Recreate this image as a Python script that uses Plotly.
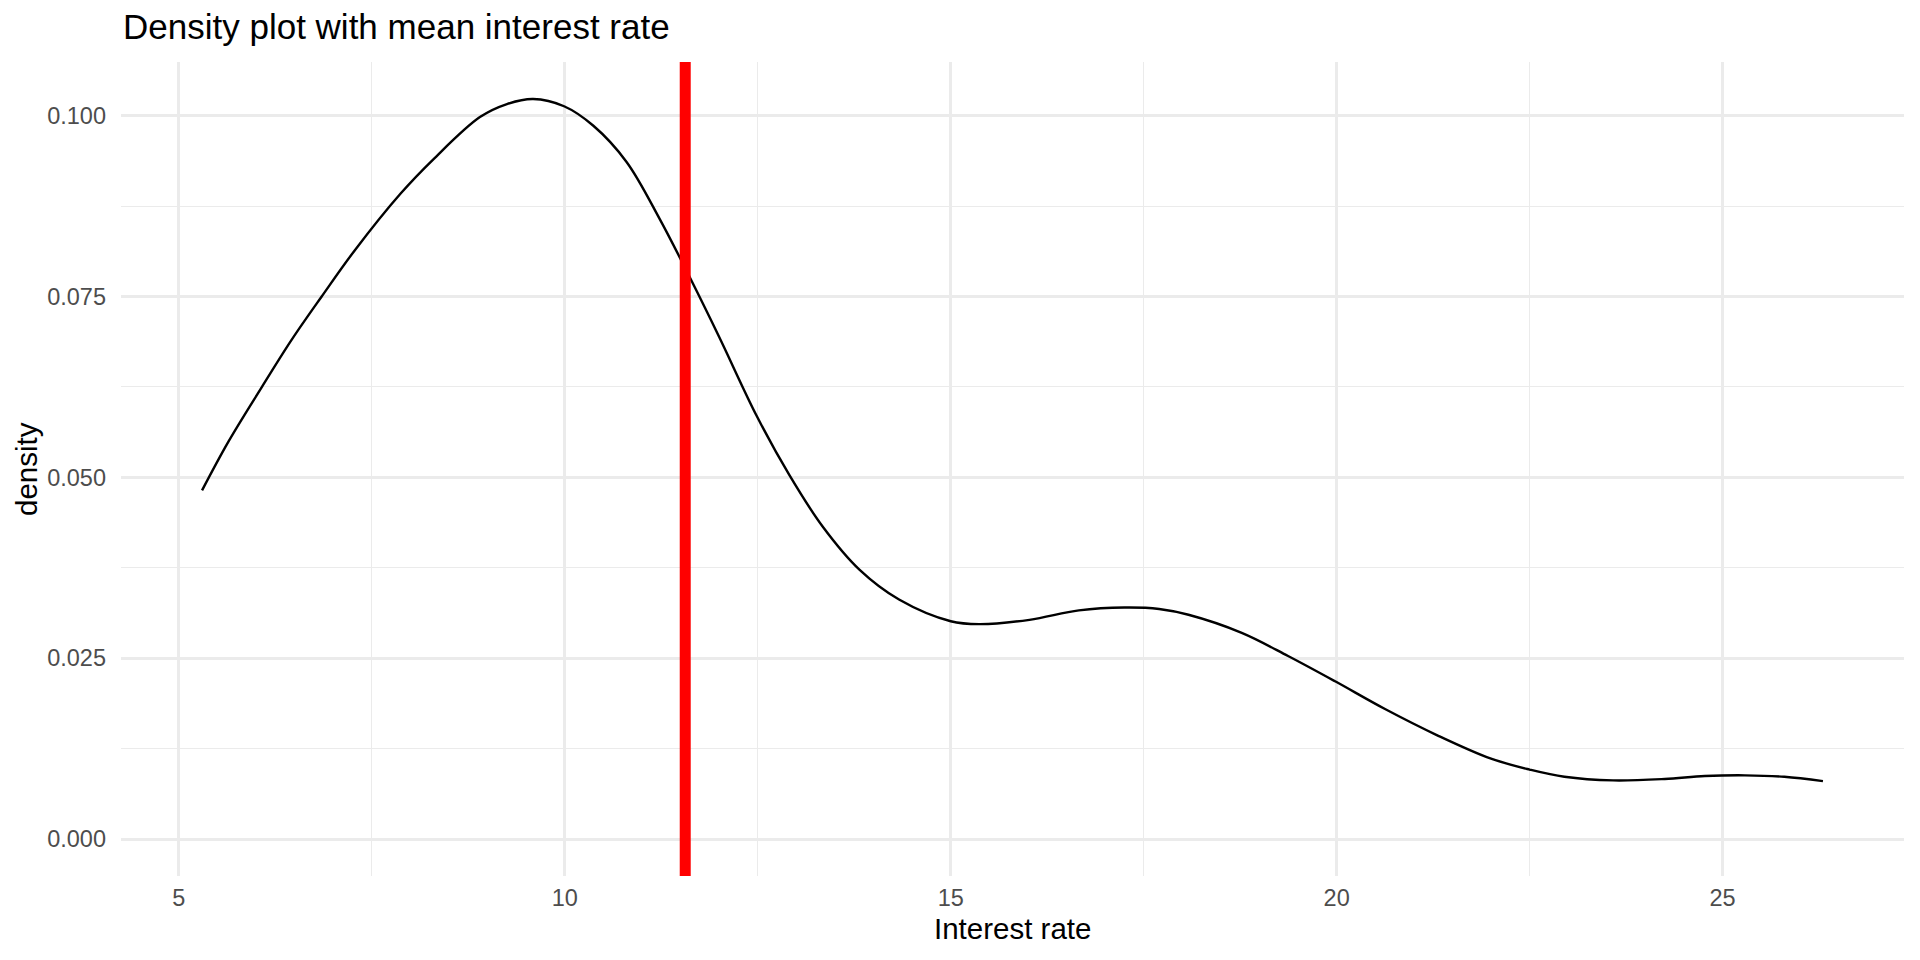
import plotly.graph_objects as go

# ---- data ----
interest_rate = [5.30, 5.64, 6.07, 6.46, 6.85, 7.28, 7.87, 8.30, 8.90,
                 9.25, 9.59, 9.99, 10.37, 10.80, 11.23, 11.64, 12.00, 12.49,
                 12.91, 13.34, 13.82, 14.33, 15.00, 15.37, 16.02, 16.66, 17.25, 17.70,
                 18.08, 18.77, 19.37, 19.98, 20.62, 21.31, 22.00, 22.50, 22.95, 23.58,
                 24.25, 24.77, 25.29, 25.80, 26.30]
density = [0.0482, 0.0549, 0.0624, 0.0690, 0.0750, 0.0814, 0.0892, 0.0940, 0.0998,
           0.1016, 0.1023, 0.1013, 0.0986, 0.0936, 0.0857, 0.0772, 0.0694, 0.0584,
           0.0503, 0.0432, 0.0372, 0.0331, 0.0301, 0.0297, 0.0303, 0.0316, 0.0320, 0.0318,
           0.0310, 0.0285, 0.0253, 0.0218, 0.0180, 0.0143, 0.0111, 0.0096, 0.0086, 0.0081,
           0.0083, 0.0087, 0.0088, 0.0086, 0.0080]
mean_rate = 11.56

x_ticks = [5, 10, 15, 20, 25]
y_ticks = [0.000, 0.025, 0.050, 0.075, 0.100]

title_text = "Density plot with mean interest rate"
x_title = "Interest rate"
y_title = "density"

# ggplot-style 5% expansion
xmin, xmax = min(interest_rate), max(interest_rate)
xpad = (xmax - xmin) * 0.05
ymin, ymax = 0.0, max(density)
ypad = (ymax - ymin) * 0.05

FONT = "Liberation Sans, Arial, Helvetica, sans-serif"
GRID = "#EBEBEB"

fig = go.Figure()
fig.add_trace(go.Scatter(
    x=interest_rate, y=density, mode="lines",
    line=dict(color="black", width=2.4, shape="spline", smoothing=1.0),
    hoverinfo="x+y", showlegend=False,
))

fig.add_shape(type="line", xref="x", yref="paper", x0=mean_rate, x1=mean_rate,
              y0=0, y1=1, line=dict(color="#FF0000", width=11), layer="above")

# page body has an 8px default margin, so the figure is 1912x952 and offset
fig.update_layout(
    width=1912, height=952,
    margin=dict(l=113, r=16, t=54, b=84),
    plot_bgcolor="white", paper_bgcolor="white",
    font=dict(family=FONT),
    showlegend=False,
    xaxis=dict(
        range=[xmin - xpad, xmax + xpad],
        tickmode="array", tickvals=x_ticks, ticktext=[str(v) for v in x_ticks],
        showgrid=True, gridcolor=GRID, gridwidth=2.6,
        minor=dict(dtick=2.5, tick0=0, showgrid=True, gridcolor=GRID, gridwidth=1.4),
        zeroline=False, showline=False, ticks="", ticklabelstandoff=5,
        tickfont=dict(family=FONT, size=23.5, color="#4D4D4D"),
    ),
    yaxis=dict(
        range=[ymin - ypad, ymax + ypad],
        tickmode="array", tickvals=y_ticks, ticktext=[f"{v:.3f}" for v in y_ticks],
        showgrid=True, gridcolor=GRID, gridwidth=2.6,
        minor=dict(dtick=0.0125, tick0=0, showgrid=True, gridcolor=GRID, gridwidth=1.4),
        zeroline=False, showline=False, ticks="", ticklabelstandoff=14,
        tickfont=dict(family=FONT, size=23.5, color="#4D4D4D"),
    ),
    annotations=[
        dict(text=title_text, xref="paper", yref="paper", x=0, y=1.044,
             xanchor="left", yanchor="middle", showarrow=False,
             font=dict(family=FONT, size=35, color="black")),
        dict(text=x_title, xref="paper", yref="paper", x=0.5, y=-0.065,
             xanchor="center", yanchor="middle", showarrow=False,
             font=dict(family=FONT, size=29.5, color="black")),
        dict(text=y_title, xref="paper", yref="paper", x=-0.0533, y=0.5,
             xanchor="center", yanchor="middle", showarrow=False, textangle=-90,
             font=dict(family=FONT, size=29.5, color="black")),
    ],
)

fig.write_html("out.html")
